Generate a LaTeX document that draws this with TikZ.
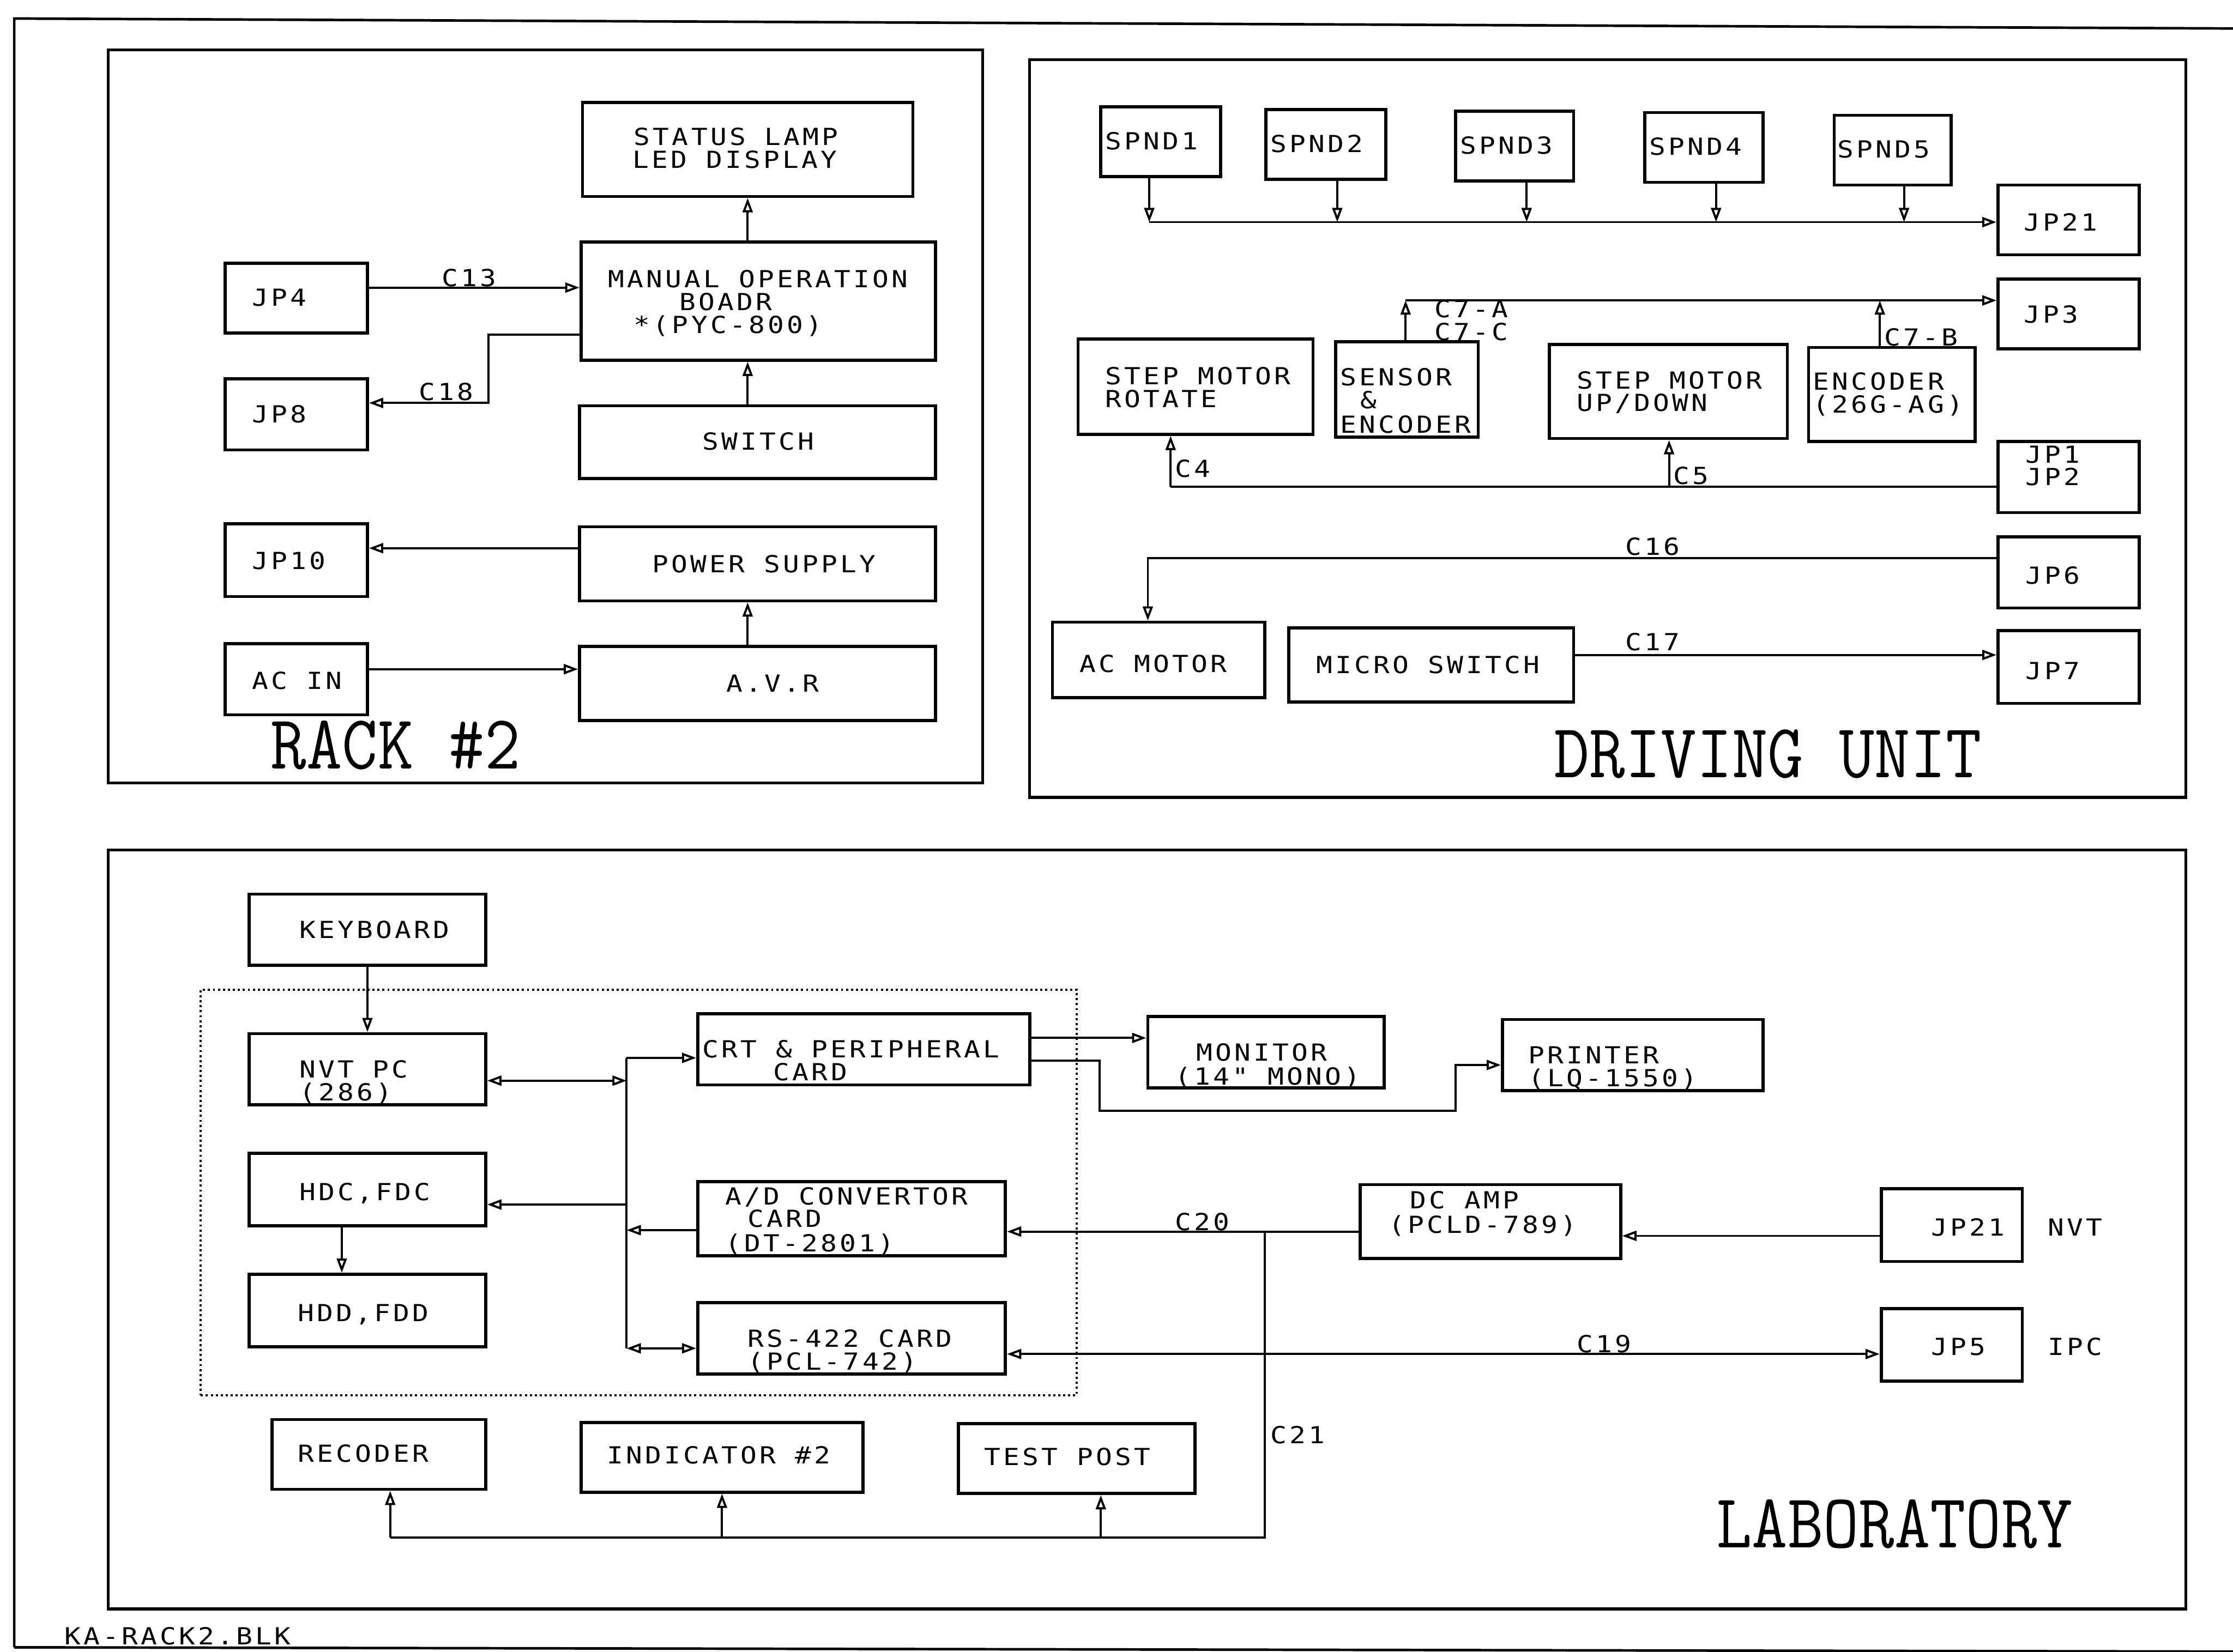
\documentclass[tikz,border=0pt]{standalone}
\usepackage{fontspec}
\newfontfamily\pf[FakeStretch=1.15,LetterSpace=12]{DejaVu Sans Mono}
\newfontfamily\tf[FakeStretch=0.9]{Latin Modern Mono}
\usetikzlibrary{arrows.meta,fit}
\begin{document}
\begin{tikzpicture}[x=1pt,y=-1pt,
  bx/.style={draw, line width=2.2pt, inner sep=0pt},
  frm/.style={draw, line width=2pt, inner sep=0pt},
  ln/.style={line width=1.5pt},
  arr/.style={ln, -{Triangle[open,length=10pt,width=7pt]}},
  arr2/.style={ln, {Triangle[open,length=10pt,width=7pt]}-{Triangle[open,length=10pt,width=7pt]}},
  pt/.style={anchor=base west, inner sep=0pt, yshift=-6pt, font=\pf\fontsize{16.5pt}{18pt}\selectfont},
  ttl/.style={anchor=base west, inner sep=0pt, font=\tf\fontsize{54pt}{60pt}\selectfont}]
\useasboundingbox (0,0) rectangle (1568,1160);
% outer border
\draw[line width=1.8pt] (10,1157) -- (10,13) -- (1568,20);
\draw[line width=1.8pt] (10,1157) -- (1568,1160);
% frames
\node[frm, fit={(76,35) (690,550)}] (rack) {};
\node[frm, fit={(723,42) (1535,560)}] (drv) {};
\node[frm, fit={(76,597) (1535,1130)}] (lab) {};
\node[draw, dotted, line width=1.5pt, inner sep=0pt, fit={(141,695) (756,980)}] (pcbox) {};

% ---------- RACK #2 ----------
\node[bx, fit={(409,72) (641,138)}] (sl) {};
\node[bx, fit={(408,170) (657,253)}] (mob) {};
\node[bx, fit={(407,285) (657,336)}] (sw) {};
\node[bx, fit={(158,185) (258,234)}] (jp4) {};
\node[bx, fit={(158,266) (258,316)}] (jp8) {};
\node[bx, fit={(158,368) (258,419)}] (jp10) {};
\node[bx, fit={(407,370) (657,422)}] (ps) {};
\node[bx, fit={(158,452) (258,502)}] (acin) {};
\node[bx, fit={(407,454) (657,506)}] (avr) {};

\node[pt] (t1) at (445,96) {STATUS LAMP};
\node[pt] (t2) at (444,112) {LED DISPLAY};
\node[pt] (t3) at (427,196) {MANUAL OPERATION};
\node[pt] (t4) at (477,212) {BOADR};
\node[pt] (t5) at (445,228) {*(PYC-800)};
\node[pt] (t6) at (493,310) {SWITCH};
\node[pt] (t7) at (177,209) {JP4};
\node[pt] (t8) at (177,291) {JP8};
\node[pt] (t9) at (177,394) {JP10};
\node[pt] (t10) at (458,396) {POWER SUPPLY};
\node[pt] (t11) at (177,478) {AC IN};
\node[pt] (t12) at (510,480) {A.V.R};
\node[pt] (t13) at (310,195) {C13};
\node[pt] (t14) at (294,275) {C18};
\node[ttl] (rackt) at (190,540) {RACK \#2};

\draw[arr] (sl.south |- mob.north) -- (sl.south);
\draw[arr] (sw.north -| sl.south) -- (sl.south |- mob.south);
\draw[arr] (jp4.east |- 0,202) -- (mob.west |- 0,202);
\draw[arr] (mob.west |- 0,235) -| (343,283) -- (jp8.east |- 0,283);
\draw[arr] (ps.west |- 0,385) -- (jp10.east |- 0,385);
\draw[arr] (acin.east |- 0,470) -- (avr.west |- 0,470);
\draw[arr] (avr.north -| sl.south) -- (ps.south -| sl.south);

% ---------- DRIVING UNIT ----------
\node[bx, fit={(773,75) (857,124)}] (sp1) {};
\node[bx, fit={(889,77) (973,126)}] (sp2) {};
\node[bx, fit={(1022,78) (1105,127)}] (sp3) {};
\node[bx, fit={(1155,79) (1238,128)}] (sp4) {};
\node[bx, fit={(1288,81) (1370,130)}] (sp5) {};
\node[bx, fit={(1403,130) (1502,179)}] (jp21d) {};
\node[bx, fit={(1403,196) (1502,245)}] (jp3) {};
\node[bx, fit={(757,238) (922,305)}] (smr) {};
\node[bx, fit={(938,240) (1038,307)}] (se) {};
\node[bx, fit={(1088,242) (1255,308)}] (smu) {};
\node[bx, fit={(1270,244) (1387,310)}] (enc) {};
\node[bx, fit={(1403,310) (1502,360)}] (jp12) {};
\node[bx, fit={(1403,377) (1502,427)}] (jp6) {};
\node[bx, fit={(739,437) (888,490)}] (acm) {};
\node[bx, fit={(905,441) (1105,493)}] (ms) {};
\node[bx, fit={(1403,443) (1502,494)}] (jp7) {};

\node[pt] (d1) at (776,99) {SPND1};
\node[pt] (d2) at (892,101) {SPND2};
\node[pt] (d3) at (1025,102) {SPND3};
\node[pt] (d4) at (1158,103) {SPND4};
\node[pt] (d5) at (1290,105) {SPND5};
\node[pt] (d6) at (1421,156) {JP21};
\node[pt] (d7) at (1421,221) {JP3};
\node[pt] (d8) at (776,264) {STEP MOTOR};
\node[pt] (d9) at (776,280) {ROTATE};
\node[pt] (d10) at (941,265) {SENSOR};
\node[pt] (d11) at (955,281) {\&};
\node[pt] (d12) at (941,298) {ENCODER};
\node[pt] (d13) at (1107,267) {STEP MOTOR};
\node[pt] (d14) at (1107,283) {UP/DOWN};
\node[pt] (d15) at (1273,268) {ENCODER};
\node[pt] (d16) at (1273,284) {(26G-AG)};
\node[pt] (d17) at (1422,319) {JP1};
\node[pt] (d18) at (1422,335) {JP2};
\node[pt] (d19) at (1422,404) {JP6};
\node[pt] (d20) at (758,466) {AC MOTOR};
\node[pt] (d21) at (924,467) {MICRO SWITCH};
\node[pt] (d22) at (1422,471) {JP7};
\node[pt] (d23) at (1007,217) {C7-A};
\node[pt] (d24) at (1007,233) {C7-C};
\node[pt] (d25) at (1323,237) {C7-B};
\node[pt] (d26) at (825,329) {C4};
\node[pt] (d27) at (1175,334) {C5};
\node[pt] (d28) at (1141,384) {C16};
\node[pt] (d29) at (1141,451) {C17};
\node[ttl] (drvt) at (1091,546) {DRIVING UNIT};

\coordinate (b1) at (807,156);
\coordinate (b2) at (939,156);
\coordinate (b3) at (1072,156);
\coordinate (b4) at (1205,156);
\coordinate (b5) at (1337,156);
\draw[arr] (b1) -- (jp21d.west |- b1);
\draw[arr] (sp1.south -| b1) -- (b1);
\draw[arr] (sp2.south -| b2) -- (b2);
\draw[arr] (sp3.south -| b3) -- (b3);
\draw[arr] (sp4.south -| b4) -- (b4);
\draw[arr] (sp5.south -| b5) -- (b5);

\coordinate (c7a) at (987,211);
\coordinate (c7b) at (1320,211);
\draw[arr] (c7a) -- (jp3.west |- c7a);
\draw[arr] (se.north -| c7a) -- (c7a);
\draw[arr] (enc.north -| c7b) -- (c7b);

\coordinate (c4) at (822,342);
\coordinate (c5) at (1172,342);
\draw[ln] (jp12.west |- c4) -- (c4);
\draw[arr] (c4) -- (smr.south -| c4);
\draw[arr] (c5) -- (smu.south -| c5);

\draw[arr] (jp6.west |- 0,392) -| (acm.north -| 806,0);
\draw[arr] (ms.east |- 0,460) -- (jp7.west |- 0,460);

% ---------- LABORATORY ----------
\node[bx, fit={(175,628) (341,678)}] (kb) {};
\node[bx, fit={(175,726) (341,776)}] (nvt) {};
\node[bx, fit={(175,810) (341,861)}] (hdc) {};
\node[bx, fit={(175,895) (341,946)}] (hdd) {};
\node[bx, fit={(490,712) (723,762)}] (crt) {};
\node[bx, fit={(490,830) (706,882)}] (ad) {};
\node[bx, fit={(490,915) (706,965)}] (rs) {};
\node[bx, fit={(806,714) (972,764)}] (mon) {};
\node[bx, fit={(1055,716) (1238,766)}] (prn) {};
\node[bx, fit={(955,832) (1138,884)}] (dca) {};
\node[bx, fit={(1321,835) (1420,886)}] (jp21l) {};
\node[bx, fit={(1321,919) (1420,970)}] (jp5) {};
\node[bx, fit={(191,997) (341,1046)}] (rec) {};
\node[bx, fit={(408,999) (606,1048)}] (ind) {};
\node[bx, fit={(673,1000) (839,1049)}] (tp) {};

\node[pt] (l1) at (210,653) {KEYBOARD};
\node[pt] (l2) at (210,751) {NVT PC};
\node[pt] (l3) at (210,767) {(286)};
\node[pt] (l4) at (210,837) {HDC,FDC};
\node[pt] (l5) at (209,922) {HDD,FDD};
\node[pt] (l6) at (493,737) {CRT \& PERIPHERAL};
\node[pt] (l7) at (543,753) {CARD};
\node[pt] (l8) at (509,840) {A/D CONVERTOR};
\node[pt] (l9) at (525,856) {CARD};
\node[pt] (l10) at (509,873) {(DT-2801)};
\node[pt] (l11) at (525,940) {RS-422 CARD};
\node[pt] (l12) at (525,956) {(PCL-742)};
\node[pt] (l13) at (840,739) {MONITOR};
\node[pt] (l14) at (825,756) {(14" MONO)};
\node[pt] (l15) at (1073,741) {PRINTER};
\node[pt] (l16) at (1073,757) {(LQ-1550)};
\node[pt] (l17) at (990,843) {DC AMP};
\node[pt] (l18) at (975,860) {(PCLD-789)};
\node[pt] (l19) at (1356,862) {JP21};
\node[pt] (l20) at (1438,862) {NVT};
\node[pt] (l21) at (1356,946) {JP5};
\node[pt] (l22) at (1438,946) {IPC};
\node[pt] (l23) at (209,1021) {RECODER};
\node[pt] (l24) at (426,1022) {INDICATOR \#2};
\node[pt] (l25) at (691,1023) {TEST POST};
\node[pt] (l26) at (825,858) {C20};
\node[pt] (l27) at (1107,944) {C19};
\node[pt] (l28) at (892,1008) {C21};
\node[ttl] (labt) at (1205,1087) {LABORATORY};
\node[pt] (ka) at (45,1149) {KA-RACK2.BLK};

\draw[arr] (kb.south) -- (nvt.north);
\draw[arr] (hdc.south -| 240,0) -- (hdd.north -| 240,0);

\coordinate (bt) at (440,743);
\coordinate (bb) at (440,947);
\draw[ln] (bt) -- (bb);
\draw[arr] (bt) -- (crt.west |- bt);
\draw[arr2] (nvt.east |- 0,759) -- (bt |- 0,759);
\draw[arr] (bt |- 0,846) -- (hdc.east |- 0,846);
\draw[arr] (ad.west |- 0,864) -- (bt |- 0,864);
\draw[arr2] (bb) -- (rs.west |- bb);

\draw[arr] (crt.east |- 0,729) -- (mon.west |- 0,729);
\draw[arr] (crt.east |- 0,745) -| (772,780) -| (1022,748) -- (prn.west |- 0,748);

\coordinate (c21) at (888,865);
\coordinate (cb) at (888,1080);
\coordinate (r1) at (274,1080);
\coordinate (r2) at (507,1080);
\coordinate (r3) at (773,1080);
\draw[arr] (dca.west |- c21) -- (ad.east |- c21);
\draw[ln] (c21) -- (cb) -- (r1);
\draw[arr] (r1) -- (rec.south -| r1);
\draw[arr] (r2) -- (ind.south -| r2);
\draw[arr] (r3) -- (tp.south -| r3);

\draw[arr] (jp21l.west |- 0,868) -- (dca.east |- 0,868);
\draw[arr2] (rs.east |- 0,951) -- (jp5.west |- 0,951);
\end{tikzpicture}
\end{document}
